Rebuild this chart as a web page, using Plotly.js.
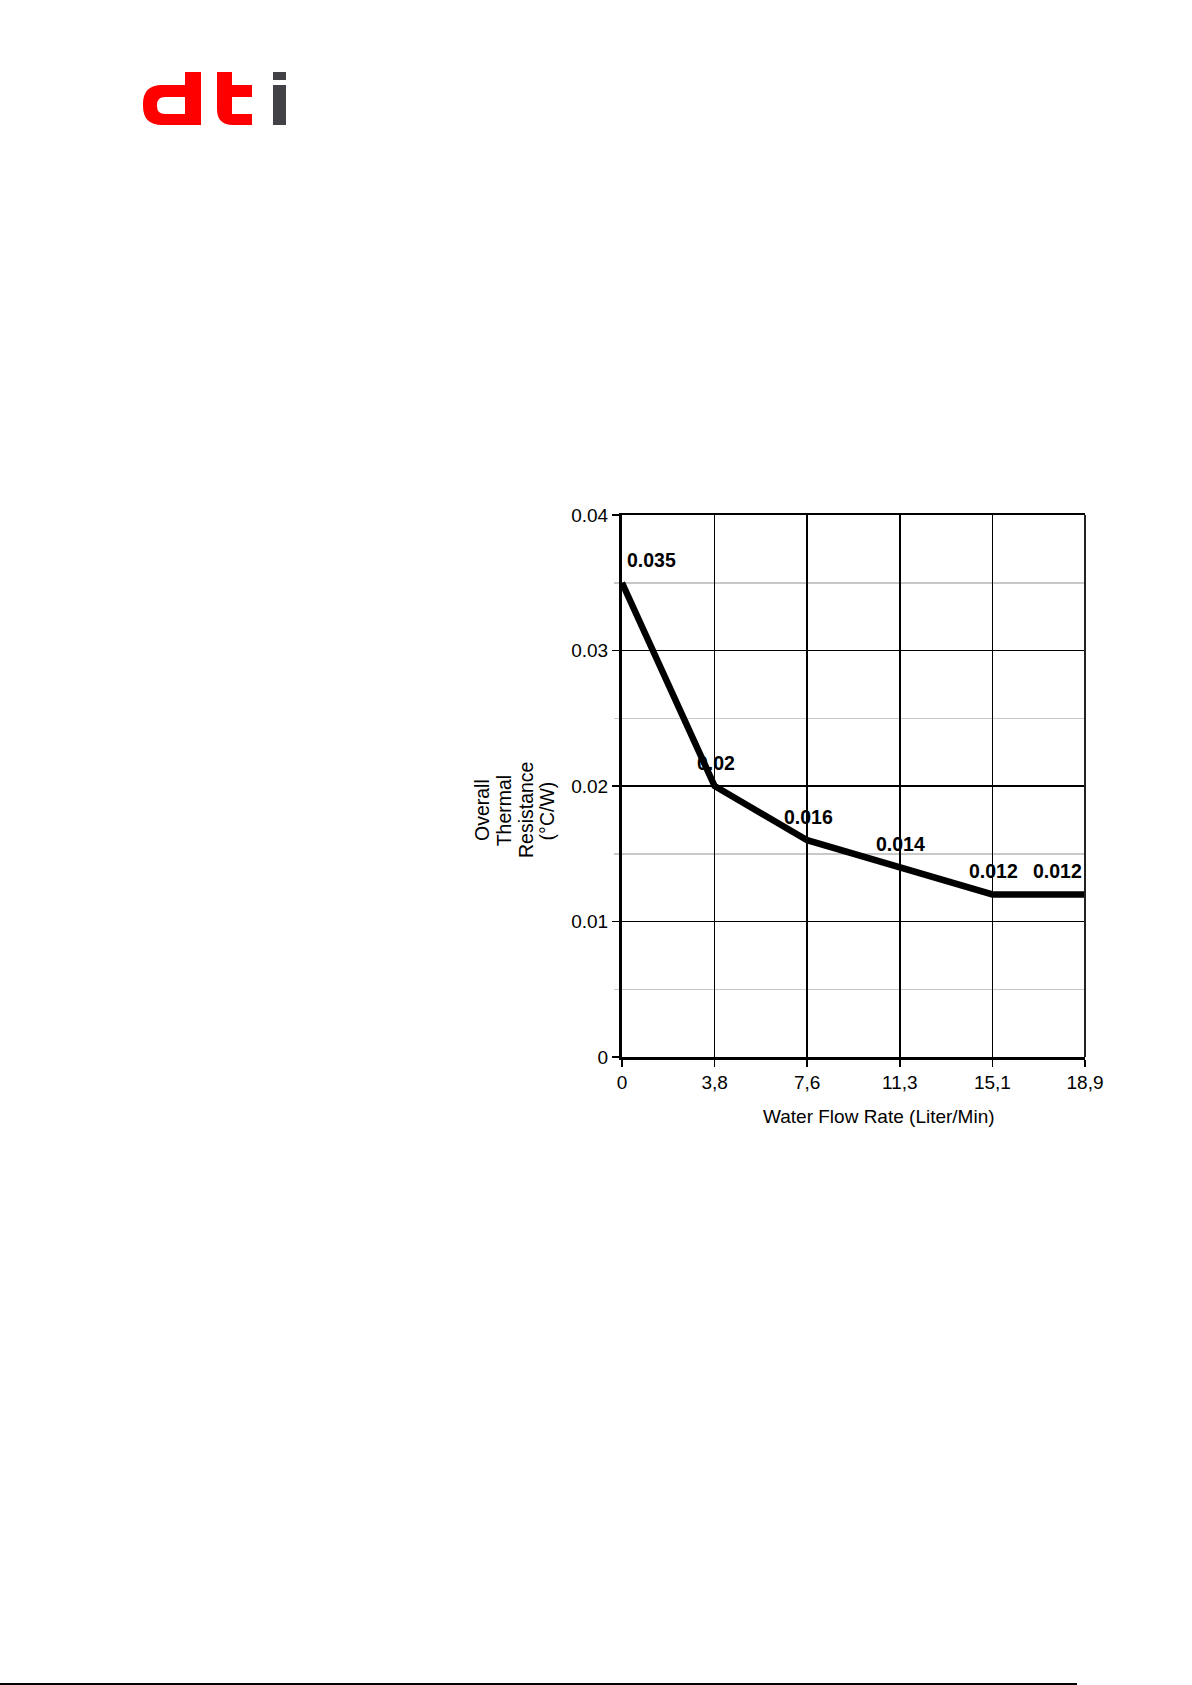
<!DOCTYPE html>
<html>
<head>
<meta charset="utf-8">
<script src="https://cdn.plot.ly/plotly-3.0.1.min.js"></script>
<style>
  html, body { margin: 0; padding: 0; background: #fff; }
  #wrap { position: relative; width: 1192px; height: 1685px; overflow: hidden; }
  #chart { position: absolute; left: 0; top: 0; width: 1192px; height: 1685px; }
  #logo { position: absolute; left: 0; top: 0; }
  #footline { position: absolute; left: 0; top: 1683px; width: 1077px; height: 2px; background: #000; }
</style>
</head>
<body>
<div id="wrap">
  <div id="chart"></div>
  <svg id="logo" width="320" height="140" viewBox="0 0 320 140">
    <path fill="#ff0000" fill-rule="evenodd"
      d="M201,72 L201,125 L162,125 Q143,125 143,106 L143,104 Q143,85 162,85 L185,85 L185,72 Z
         M185,97 L165,97 Q157,97 157,105 L157,106 Q157,114 165,114 L185,114 Z"/>
    <path fill="#ff0000"
      d="M217,72 L232,72 L232,85 L252,85 L252,97 L232,97 L232,114 L252,114 L252,125 L233,125 Q217,125 217,109 Z"/>
    <rect x="273" y="72" width="13" height="8" fill="#414146"/>
    <rect x="273" y="85" width="13" height="40" fill="#414146"/>
  </svg>
  <div id="footline"></div>
</div>
<script>
// ---- data ----
const flowLabels = ['0', '3,8', '7,6', '11,3', '15,1', '18,9'];
const resistance = [0.035, 0.02, 0.016, 0.014, 0.012, 0.012];
const pointLabels = ['0.035', '0.02', '0.016', '0.014', '0.012', '0.012'];
const yTickVals = [0, 0.01, 0.02, 0.03, 0.04];
const yTickText = ['0', '0.01', '0.02', '0.03', '0.04'];
const xTitle = 'Water Flow Rate (Liter/Min)';
const yTitleLines = ['Overall', 'Thermal', 'Resistance', '(°C/W)'];

const FONT = '"Liberation Sans", Arial, sans-serif';

const trace = {
  type: 'scatter',
  mode: 'lines',
  x: flowLabels,
  y: resistance,
  line: { color: '#000', width: 6.5 },
  cliponaxis: false,
  hoverinfo: 'skip',
  showlegend: false
};

// point value labels, built from the data arrays
const lastIdx = pointLabels.length - 1;
const labelAnnotations = pointLabels.map((t, i) => ({
  text: '<b>' + t + '</b>',
  x: flowLabels[i],
  y: resistance[i],
  xref: 'x', yref: 'y',
  showarrow: false,
  xanchor: i === 0 ? 'left' : (i === lastIdx ? 'right' : 'center'),
  xshift: i === 0 ? 3 : (i === lastIdx ? -1 : 1),
  yanchor: 'bottom',
  yshift: 10,
  font: { family: FONT, size: 19.5, color: '#000' }
}));

// y-axis title lines (rotated), tight line spacing as in the original
const yTitleX = [-0.301, -0.255, -0.206, -0.162];
const yTitleAnnotations = yTitleLines.map((t, i) => ({
  text: t,
  xref: 'paper', yref: 'paper',
  x: yTitleX[i], y: 0.455,
  xanchor: 'center', yanchor: 'middle',
  showarrow: false, textangle: -90,
  font: { family: FONT, size: 19.5, color: '#000' }
}));

const layout = {
  width: 1192,
  height: 1685,
  margin: { l: 622, r: 107, t: 515, b: 628 },
  paper_bgcolor: '#fff',
  plot_bgcolor: '#fff',
  font: { family: FONT, size: 19, color: '#000' },
  showlegend: false,
  xaxis: {
    type: 'category',
    range: [0, flowLabels.length - 1],
    showgrid: true,
    gridcolor: '#000',
    gridwidth: 1.5,
    showline: true,
    linecolor: '#000',
    linewidth: 2.5,
    mirror: true,
    ticks: 'outside',
    ticklen: 7,
    tickwidth: 1.5,
    tickcolor: '#000',
    tickfont: { family: FONT, size: 19, color: '#000' },
    zeroline: false,
    fixedrange: true
  },
  yaxis: {
    range: [0, 0.04],
    tickvals: yTickVals,
    ticktext: yTickText,
    showgrid: true,
    gridcolor: '#000',
    gridwidth: 1.5,
    showline: true,
    linecolor: '#000',
    linewidth: 3,
    ticks: 'outside',
    ticklen: 7,
    tickwidth: 1.5,
    tickcolor: '#000',
    tickfont: { family: FONT, size: 19, color: '#000' },
    zeroline: false,
    minor: {
      dtick: 0.005,
      showgrid: true,
      gridcolor: '#c8c8c8',
      gridwidth: 1.5,
      ticks: 'outside',
      ticklen: 5,
      tickcolor: '#c8c8c8',
      tickwidth: 1.5
    },
    fixedrange: true
  },
  shapes: [
    { type: 'line', xref: 'paper', yref: 'paper', x0: 1, x1: 1, y0: 0, y1: 1,
      line: { color: '#222', width: 2 } }
  ],
  annotations: [
    { text: xTitle, xref: 'paper', yref: 'paper', x: 0.555, y: -0.109,
      xanchor: 'center', yanchor: 'middle', showarrow: false,
      font: { family: FONT, size: 19, color: '#000' } }
  ].concat(yTitleAnnotations, labelAnnotations)
};

Plotly.newPlot('chart', [trace], layout, { staticPlot: true, displayModeBar: false });
</script>
</body>
</html>
